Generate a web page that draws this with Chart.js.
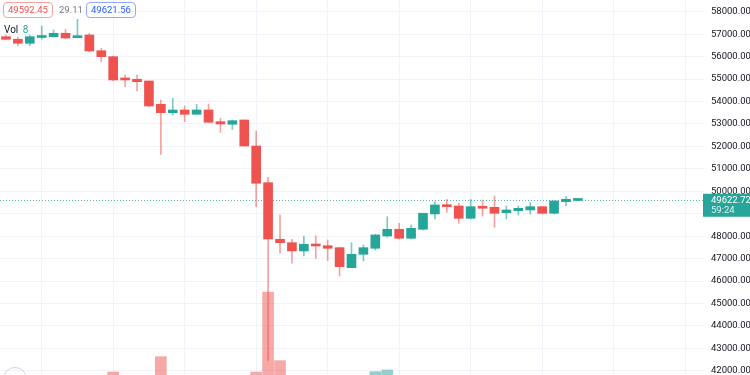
<!DOCTYPE html>
<html>
<head>
<meta charset="utf-8">
<script src="https://cdn.jsdelivr.net/npm/chart.js@4.4.0/dist/chart.umd.min.js"></script>
<style>
  html, body { margin: 0; padding: 0; background: #fff; overflow: hidden; }
  #wrap { position: relative; width: 750px; height: 375px; overflow: hidden; }
  .txt { position: absolute; font-family: Roboto, sans-serif; font-size: 9.5px; line-height: 14px; white-space: nowrap; }
  .box { border-radius: 4px; padding: 0 4px; height: 14px; }
  #logo { position: absolute; left: 3px; top: 367px; width: 22px; height: 22px; border: 1px solid #d1d4dc; border-radius: 50%; }
</style>
</head>
<body>
<div id="wrap">
  <canvas id="chartBtc" width="750" height="375"></canvas>
  <div class="txt box" style="left:3px; top:2px; color:#ef5350; border:1px solid #f5a3a1;">49592.45</div>
  <div class="txt" style="left:59px; top:3px; color:#787b86;">29.11</div>
  <div class="txt box" style="left:86px; top:2px; color:#2962ff; border:1px solid #8fa9ff;">49621.56</div>
  <div class="txt" style="left:4px; top:23px; color:#131722; font-size:10px;">Vol <span style="color:#26a69a; margin-left:2px;">8</span></div>
  <div id="logo"></div>
</div>
<script>
// velas horarias BTC
var opens  = [56886, 56771, 56593, 56850, 56886, 57038, 56842, 56962, 56263, 55996,
              55034, 54989, 54913, 53876, 53502, 53622, 53430, 53622, 53101, 52985,
              53176, 52018, 50384, 47863, 47711, 47342, 47640, 47577, 47489, 46598,
              47194, 47462, 48010, 48308, 47907, 48308, 48990, 49391, 49346, 48798,
              49315, 49288, 49047, 49136, 49168, 49315, 49021, 49538, 49592.45];
var highs  = [56962, 56860, 56962, 57363, 57185, 57216, 57661, 57038, 56370, 56027,
              55181, 55181, 54913, 54067, 54143, 53800, 53876, 53889, 53252, 53176,
              53176, 52686, 50624, 48945, 47863, 48010, 48010, 47831, 47489, 47711,
              47609, 48086, 48869, 48575, 48500, 49021, 49538, 49644, 49466, 49644,
              49613, 49791, 49346, 49346, 49493, 49315, 49569, 49760, 49650];
var lows   = [56740, 56486, 56486, 56771, 56860, 56797, 56842, 56218, 55773, 54927,
              54660, 54481, 53769, 51648, 53399, 53101, 53430, 53074, 52628, 52762,
              52018, 49315, 42450, 47239, 46794, 47119, 47016, 46910, 46228, 46598,
              46896, 47386, 47952, 47863, 47863, 48277, 48767, 49065, 48575, 48767,
              48901, 48397, 48767, 48945, 48990, 48990, 48990, 49359, 49580];
var closes = [56771, 56593, 56886, 56880, 57038, 56829, 56918, 56250, 55996, 54958,
              54958, 54882, 53800, 53502, 53622, 53430, 53622, 53074, 52998, 53145,
              52018, 50357, 47876, 47711, 47342, 47640, 47564, 47462, 46642, 47194,
              47489, 48054, 48308, 47907, 48353, 49021, 49391, 49315, 48798, 49315,
              49243, 49021, 49168, 49243, 49315, 49021, 49569, 49644, 49622.72];
var volumes = [900, 700, 800, 750, 600, 650, 900, 1500, 1300, 2180,
               1200, 1100, 1900, 3100, 1400, 1000, 800, 1300, 1100, 900,
               1700, 2180, 6980, 2860, 1800, 1400, 1300, 1100, 1900, 1700,
               1500, 2200, 2300, 1500, 1200, 1600, 1400, 1000, 1300, 1200,
               900, 1400, 900, 700, 800, 700, 1200, 700, 100];
var priceTicks = [42000, 43000, 44000, 45000, 46000, 47000, 48000, 49000, 50000,
                  51000, 52000, 53000, 54000, 55000, 56000, 57000, 58000];
var lastLabel = '49622.72';
var countdown = '59:24';

var hours = [];
for (var h = 0; h < 59; h++) { hours.push('h' + h); }

var UP = '#26a69a', DOWN = '#ef5350';
var wicks = lows.map(function (l, i) { return [l, highs[i]]; });
var bodies = opens.map(function (o, i) { return [Math.min(o, closes[i]), Math.max(o, closes[i])]; });
function isUp(i) { return closes[i] >= opens[i]; }

var lastPrice = {
  id: 'lastPrice',
  beforeDatasetsDraw: function (chart) {
    var ctx = chart.ctx, a = chart.chartArea;
    var y = Math.round(chart.scales.y.getPixelForValue(closes[closes.length - 1])) + 0.5;
    ctx.save();
    ctx.strokeStyle = 'rgba(38,166,154,0.8)';
    ctx.lineWidth = 1;
    ctx.setLineDash([1, 2]);
    ctx.beginPath();
    ctx.moveTo(a.left, y);
    ctx.lineTo(a.right, y);
    ctx.stroke();
    ctx.restore();
  },
  afterDraw: function (chart) {
    var ctx = chart.ctx, a = chart.chartArea;
    var y = chart.scales.y.getPixelForValue(closes[closes.length - 1]);
    ctx.save();
    ctx.fillStyle = UP;
    ctx.fillRect(a.right, y - 6, chart.width - a.right, 23);
    ctx.fillStyle = '#ffffff';
    ctx.font = '9.5px Roboto';
    ctx.textBaseline = 'middle';
    ctx.fillText(lastLabel, a.right + 8, y + 0.5);
    ctx.fillStyle = 'rgba(255,255,255,0.85)';
    ctx.fillText(countdown, a.right + 8, y + 11);
    ctx.restore();
  }
};

var chartBtc = new Chart(document.getElementById('chartBtc'), {
  type: 'bar',
  data: {
    labels: hours,
    datasets: [{
      label: 'Vol',
      data: volumes,
      yAxisID: 'yVol',
      grouped: false,
      order: 3,
      barThickness: 11,
      backgroundColor: function (c) { return isUp(c.dataIndex) ? 'rgba(38,166,154,0.5)' : 'rgba(239,83,80,0.5)'; }
    }, {
      label: 'Wick',
      data: wicks,
      yAxisID: 'y',
      grouped: false,
      order: 2,
      barThickness: 1,
      minBarLength: 1,
      backgroundColor: function (c) { return isUp(c.dataIndex) ? 'rgba(38,166,154,0.6)' : 'rgba(239,83,80,0.55)'; }
    }, {
      label: 'Body',
      data: bodies,
      yAxisID: 'y',
      grouped: false,
      order: 1,
      barThickness: 9,
      minBarLength: 2,
      backgroundColor: function (c) { return isUp(c.dataIndex) ? UP : DOWN; }
    }]
  },
  options: {
    responsive: false,
    animation: false,
    layout: { padding: 0 },
    plugins: { legend: { display: false }, tooltip: { enabled: false } },
    scales: {
      x: {
        offset: true,
        border: { display: false },
        grid: {
          offset: false,
          drawTicks: false,
          color: function (c) { return c.index % 6 === 3 ? '#f0f3fa' : 'rgba(0,0,0,0)'; }
        },
        ticks: { display: false },
        afterFit: function (s) { s.height = 0; s.paddingLeft = 0; s.paddingRight = 0; }
      },
      y: {
        position: 'right',
        min: 41817,
        max: 58521,
        border: { display: false },
        grid: { color: '#f0f3fa', drawTicks: false },
        ticks: {
          padding: 8,
          color: '#131722',
          font: { family: 'Roboto', size: 9.5 },
          callback: function (v) { return Number(v).toFixed(2); }
        },
        afterBuildTicks: function (s) { s.ticks = priceTicks.map(function (v) { return { value: v }; }); },
        afterFit: function (s) { s.width = 47; s.paddingTop = 0; s.paddingBottom = 0; }
      },
      yVol: {
        display: false,
        min: 2000,
        max: 24500
      }
    }
  },
  plugins: [lastPrice]
});
</script>
</body>
</html>
